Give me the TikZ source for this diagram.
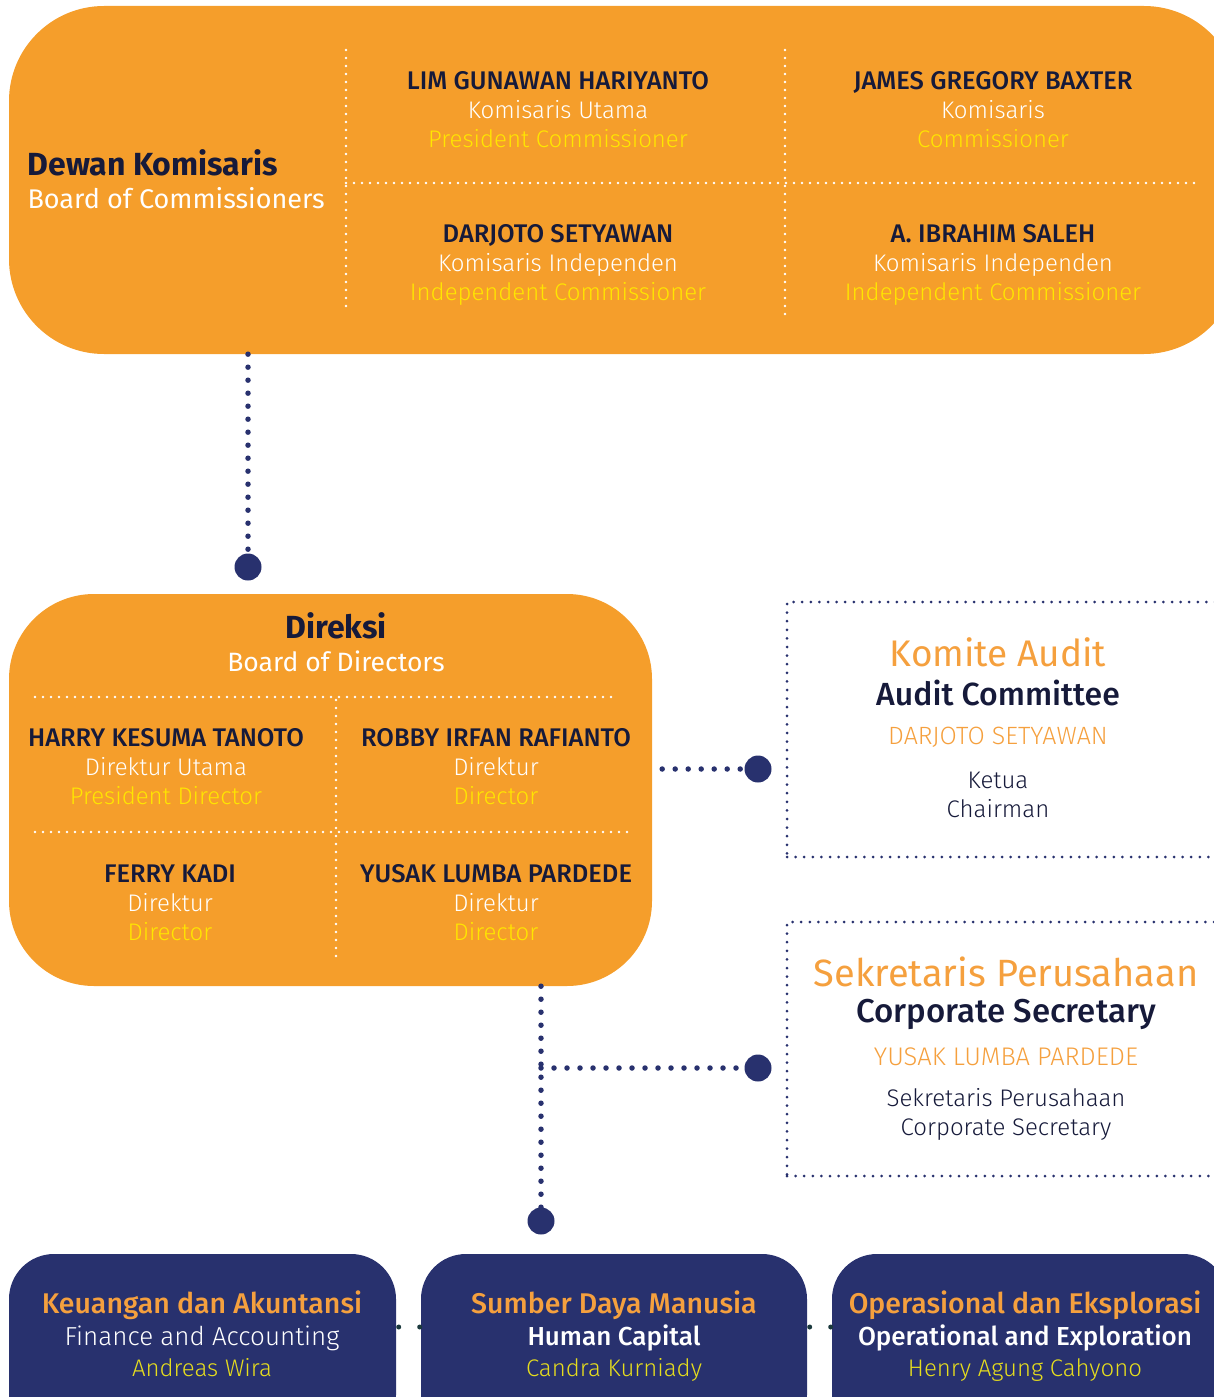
\documentclass[tikz,border=0pt]{standalone}
\usepackage{fontspec}
\setmainfont{Fira Sans}
\newfontfamily\lightfont{Fira Sans Light}
\newfontfamily\medfont{Fira Sans Medium}
\definecolor{orangec}{HTML}{F59E2B}
\definecolor{navyc}{HTML}{28316E}
\definecolor{namec}{HTML}{161A3A}
\definecolor{yellowc}{HTML}{FFE600}
\definecolor{yellowb}{HTML}{E6DD1E}
\definecolor{titlec}{HTML}{F5A03E}
\definecolor{tealc}{HTML}{1C3A3E}

\tikzset{
  board/.style={fill=orangec, draw=none, inner sep=0pt},
  unit/.style={fill=navyc, draw=none, inner sep=0pt, rounded corners=45pt},
  frame/.style={draw=navyc, line width=3pt, dash pattern=on 0pt off 8.6pt, line cap=round, inner sep=0pt},
  member/.style={align=center, text=white, font=\fontsize{24}{29}\lightfont},
  division/.style={align=center, text=white, font=\fontsize{26}{31.5}\lightfont},
  wline/.style={white, line width=2.6pt, dash pattern=on 0pt off 8pt, line cap=round},
  link/.style={navyc, line width=5.5pt, dash pattern=on 0pt off 13pt, line cap=round},
  tiny/.style={tealc, line width=5pt, dash pattern=on 0pt off 21pt, line cap=round},
  knot/.style={circle, fill=navyc, minimum size=27pt, inner sep=0pt},
}

\begin{document}
\begin{tikzpicture}[x=1pt,y=-1pt]
\useasboundingbox (0,0) rectangle (1213,1397);

% dewan komisaris
\node[board, rounded corners=95pt, minimum width=1230pt, minimum height=348pt] (dk) at (624,180) {};
\draw[wline] (346,50) -- (346,308);
\draw[wline] (785,50) -- (785,320);
\draw[wline] (346,183) -- (1200,183);
\node[anchor=west, align=left, text=white, font=\fontsize{27}{33}\selectfont] (dkt) at (24,179)
  {{\fontsize{32}{33}\selectfont\bfseries\color{namec}Dewan Komisaris}\\Board of Commissioners};
\node[member] (lim) at (558,110) {{\medfont\fontsize{25.5}{29}\selectfont\color{namec}LIM GUNAWAN HARIYANTO}\\Komisaris Utama\\{\color{yellowc}President Commissioner}};
\node[member] (james) at (993,110) {{\medfont\fontsize{25.5}{29}\selectfont\color{namec}JAMES GREGORY BAXTER}\\Komisaris\\{\color{yellowc}Commissioner}};
\node[member] (darjoto) at (558,265) {{\medfont\fontsize{25.5}{29}\selectfont\color{namec}DARJOTO SETYAWAN}\\Komisaris Independen\\{\color{yellowc}Independent Commissioner}};
\node[member] (ibrahim) at (993,265) {{\medfont\fontsize{25.5}{29}\selectfont\color{namec}A. IBRAHIM SALEH}\\Komisaris Independen\\{\color{yellowc}Independent Commissioner}};

% direksi
\node[knot] (k1) at (248,567) {};
\draw[link] (dk.south -| k1) -- (k1);
\node[board, rounded corners=85pt, minimum width=643pt, minimum height=392pt] (dr) at (330.5,790) {};
\node[align=center, text=white, font=\fontsize{26.5}{33}\selectfont] (drt) at (336,642)
  {{\fontsize{32}{33}\selectfont\bfseries\color{namec}Direksi}\\Board of Directors};
\draw[wline] (35,697) -- (615,697);
\draw[wline] (35,832) -- (632,832);
\draw[wline] (336,700) -- (336,958);
\node[member] (harry) at (166,767) {{\medfont\fontsize{25.5}{29}\selectfont\color{namec}HARRY KESUMA TANOTO}\\Direktur Utama\\{\color{yellowc}President Director}};
\node[member] (robby) at (496,767) {{\medfont\fontsize{25.5}{29}\selectfont\color{namec}ROBBY IRFAN RAFIANTO}\\Direktur\\{\color{yellowc}Director}};
\node[member] (ferry) at (170,903) {{\medfont\fontsize{25.5}{29}\selectfont\color{namec}FERRY KADI}\\Direktur\\{\color{yellowc}Director}};
\node[member] (yusak) at (496,903) {{\medfont\fontsize{25.5}{29}\selectfont\color{namec}YUSAK LUMBA PARDEDE}\\Direktur\\{\color{yellowc}Director}};

% komite audit
\node[knot] (k2) at (758,769) {};
\draw[link] ([xshift=10pt]dr.east |- k2) -- (k2);
\node[frame, minimum width=452pt, minimum height=255pt] (ka) at (1013,729.5) {};
\node[text=titlec, font=\fontsize{37}{40}\selectfont] (kat) at (998,652) {Komite Audit};
\node[text=namec, font=\fontsize{32}{34}\medfont] (kae) at (998,693) {Audit Committee};
\node[text=titlec, font=\fontsize{25}{29}\lightfont] (kan) at (998,737) {DARJOTO SETYAWAN};
\node[align=center, text=namec, font=\fontsize{24}{29}\lightfont] (kar) at (998,795) {Ketua\\Chairman};

% sekretaris perusahaan
\node[knot] (k4) at (541,1221) {};
\draw[link] (dr.south -| k4) -- (k4);
\node[knot] (k3) at (758,1068) {};
\coordinate (j) at (k4 |- k3);
\draw[link] (j) -- (k3);
\node[frame, minimum width=452pt, minimum height=254pt] (ks) at (1013,1049) {};
\node[text=titlec, font=\fontsize{38}{40}\selectfont] (kst) at (1006,972) {Sekretaris Perusahaan};
\node[text=namec, font=\fontsize{33}{34}\medfont] (kse) at (1006,1014) {Corporate Secretary};
\node[text=titlec, font=\fontsize{25.5}{29}\lightfont] (ksn) at (1006,1057) {YUSAK LUMBA PARDEDE};
\node[align=center, text=namec, font=\fontsize{24}{29}\lightfont] (ksr) at (1006,1114) {Sekretaris Perusahaan\\Corporate Secretary};

% divisi
\node[unit, minimum width=387pt, minimum height=186pt] (fa) at (202.5,1347) {};
\node[unit, minimum width=386pt, minimum height=186pt] (hc) at (614,1347) {};
\node[unit, minimum width=396pt, minimum height=186pt] (oe) at (1030,1347) {};
\draw[tiny] ([yshift=20pt]fa.east) ++(2.5,0) -- ([yshift=20pt]hc.west);
\draw[tiny] ([yshift=20pt]hc.east) ++(2.5,0) -- ([yshift=20pt]oe.west);
\node[division] (fat) at (202,1334)
  {{\medfont\fontsize{28.5}{31.5}\selectfont\color{titlec}Keuangan dan Akuntansi}\\Finance and Accounting\\{\fontsize{24}{31.5}\selectfont\color{yellowb}Andreas Wira}};
\node[division] (hct) at (614,1336.5)
  {{\medfont\fontsize{28.5}{31.5}\selectfont\color{titlec}Sumber Daya Manusia}\\{\medfont Human Capital}\\{\fontsize{24}{31.5}\selectfont\color{yellowb}Candra Kurniady}};
\node[division] (oet) at (1025,1336.5)
  {{\medfont\fontsize{28.5}{31.5}\selectfont\color{titlec}Operasional dan Eksplorasi}\\{\medfont Operational and Exploration}\\{\fontsize{24}{31.5}\selectfont\color{yellowb}Henry Agung Cahyono}};
\end{tikzpicture}
\end{document}
